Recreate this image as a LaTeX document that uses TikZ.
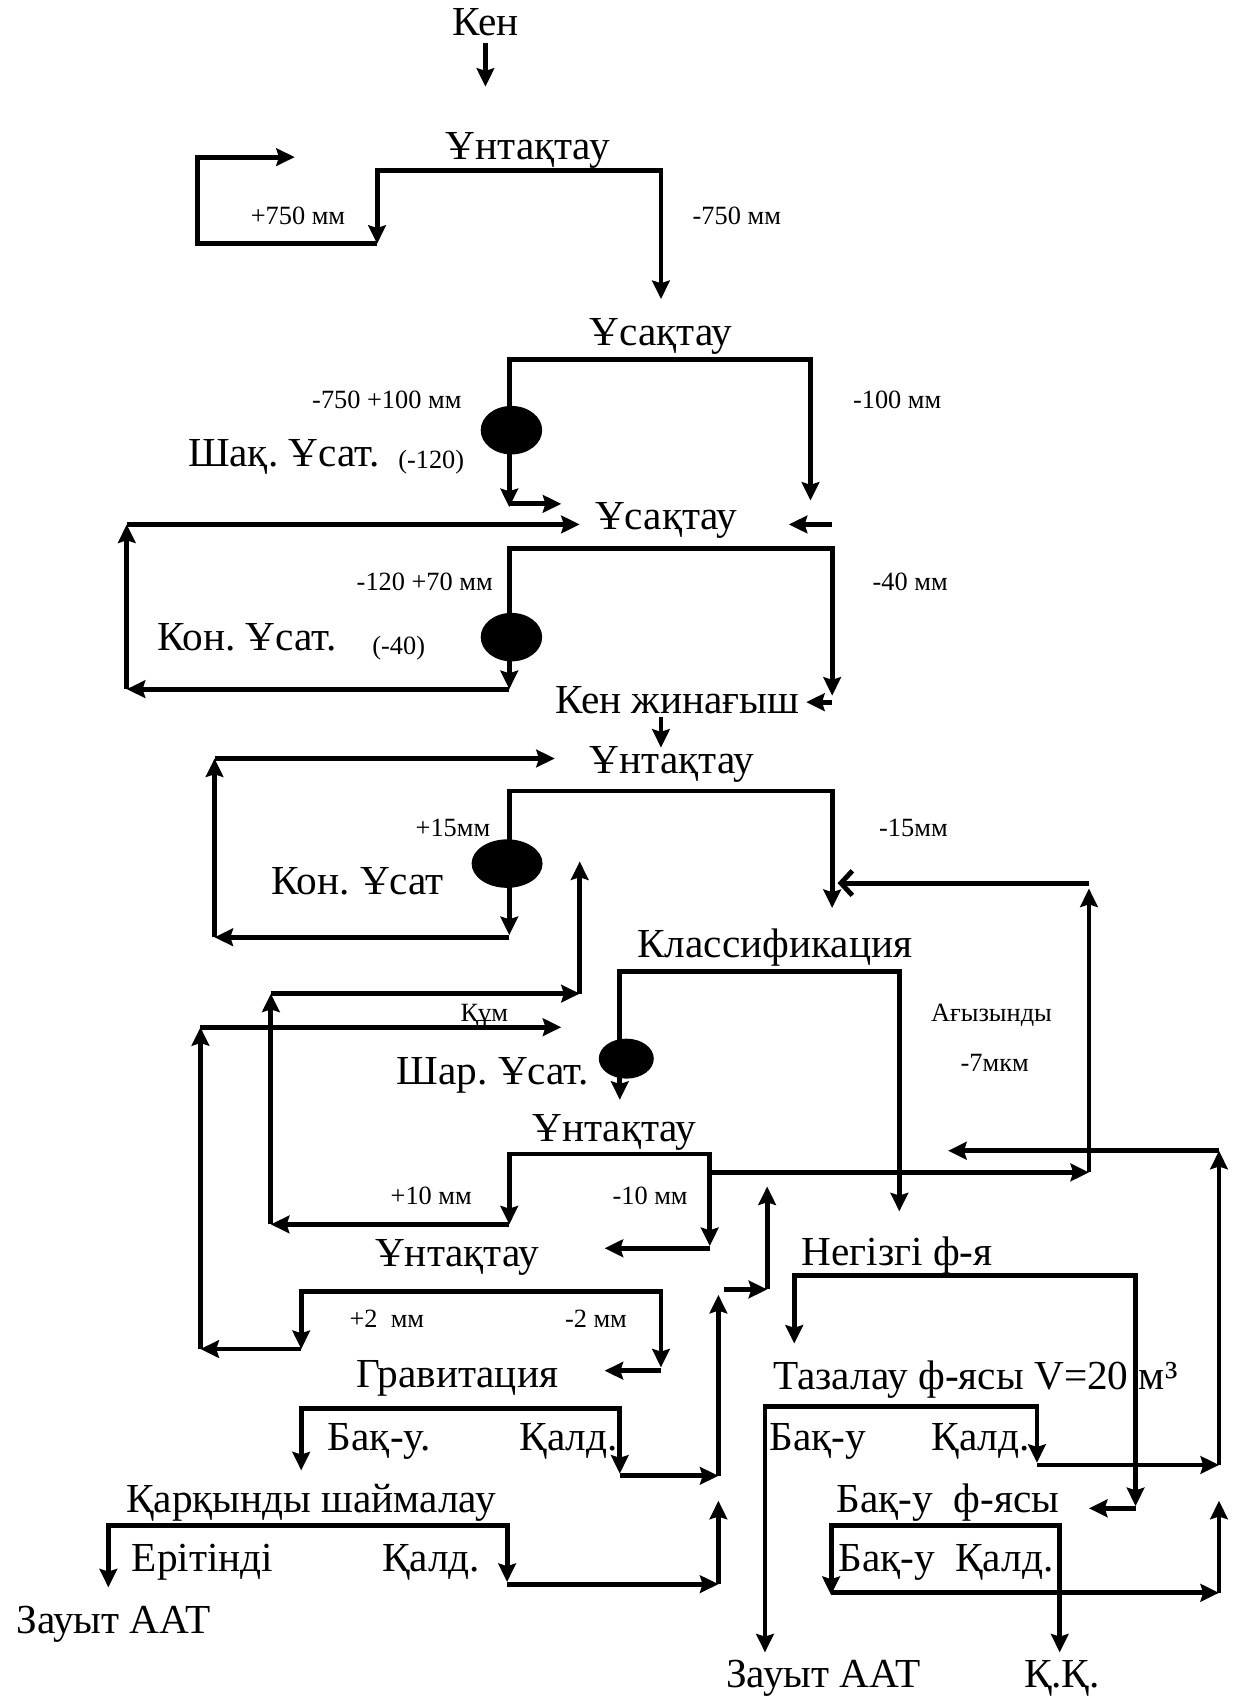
\documentclass[tikz,border=0pt]{standalone}
\usepackage{fontspec}
\setmainfont{Liberation Serif}
\usetikzlibrary{arrows.meta,shapes.geometric}
\frenchspacing
\begin{document}
\begin{tikzpicture}[x=0.021677cm,y=-0.021677cm,
  ln/.style={line width=2.8pt, line join=miter},
  ar/.style={ln, -{Stealth[length=10.5pt,width=10pt,inset=1.5pt]}},
  arr/.style={ln, {Stealth[length=10.5pt,width=10pt,inset=1.5pt]}-{Stealth[length=10.5pt,width=10pt,inset=1.5pt]}},
  opn/.style={ln, -{Straight Barb[length=6.5pt,width=14pt,line width=2.8pt]}},
  big/.style={inner sep=0pt, anchor=base, yshift=-6.5pt, font=\fontsize{23.5}{26}\selectfont},
  sm/.style={inner sep=0pt, anchor=base, yshift=-4.5pt, font=\fontsize{15}{17}\selectfont},
  dot/.style={ellipse, fill=black, draw=none, inner sep=0pt}]
\useasboundingbox (0,0) rectangle (1143,1568);

% ---------- texts ----------
\node[big] (ken) at (448,22) {Кен};
\node[big] (unt1) at (487,137) {Ұнтақтау};
\node[sm] (l750p) at (275,200) {+750 мм};
\node[sm] (l750m) at (680,200) {-750 мм};
\node[big] (usq1) at (610,308) {Ұсақтау};
\node[sm] (l100p) at (357,370) {-750 +100 мм};
\node[sm] (l100m) at (828,370) {-100 мм};
\node[big] (shaq) at (262,420) {Шақ. Ұсат.};
\node[sm] (l120) at (398,425) {(-120)};
\node[big] (usq2) at (615,478) {Ұсақтау};
\node[sm] (l70p) at (392,538) {-120 +70 мм};
\node[sm] (l40m) at (840,538) {-40 мм};
\node[big] (kon1) at (228,590) {Кон. Ұсат.};
\node[sm] (l40) at (368,597) {(-40)};
\node[big] (kenzh) at (625,648) {Кен жинағыш};
\node[big] (unt2) at (620,703) {Ұнтақтау};
\node[sm] (l15p) at (418,765) {+15мм};
\node[sm] (l15m) at (843,765) {-15мм};
\node[big] (kon2) at (330,815) {Кон. Ұсат};
\node[big] (klass) at (715,873) {Классификация};
\node[sm] (agyz) at (915,935) {Ағызынды};
\node[sm] (l7) at (918,982) {-7мкм};
\node[sm] (qum) at (447,935) {Құм};
\node[big] (shar) at (455,990) {Шар. Ұсат.};
\node[big] (unt3) at (567,1043) {Ұнтақтау};
\node[sm] (l10p) at (398,1104) {+10 мм};
\node[sm] (l10m) at (600,1104) {-10 мм};
\node[big] (unt4) at (422,1158) {Ұнтақтау};
\node[big] (neg) at (828,1157) {Негізгі ф-я};
\node[sm] (l2p) at (357,1218) {+2\ \ мм};
\node[sm] (l2m) at (550,1218) {-2 мм};
\node[big] (grav) at (422,1270) {Гравитация};
\node[big] (taz) at (900,1272) {Тазалау ф-ясы V=20 м³};
\node[big] (bak1) at (350,1328) {Бақ-у.};
\node[big] (qal1) at (525,1328) {Қалд.};
\node[big] (bak2) at (755,1328) {Бақ-у};
\node[big] (qal2) at (905,1328) {Қалд.};
\node[big] (qarq) at (287,1385) {Қарқынды шаймалау};
\node[big] (bakf) at (875,1385) {Бақ-у\ \ ф-ясы};
\node[big] (erit) at (187,1440) {Ерітінді};
\node[big] (qal3) at (398,1440) {Қалд.};
\node[big] (bakq) at (873,1440) {Бақ-у\ \ Қалд.};
\node[big] (zau1) at (105,1497) {Зауыт ААТ};
\node[big] (zau2) at (760,1547) {Зауыт ААТ};
\node[big] (qq) at (980,1547) {Қ.Қ.};

% ---------- mills (dots) ----------
\node[dot, minimum width=1.23cm, minimum height=0.97cm] (m1) at (472,397) {};
\node[dot, minimum width=1.23cm, minimum height=0.97cm] (m2) at (472,588) {};
\node[dot, minimum width=1.42cm, minimum height=0.97cm] (m3) at (468,797) {};
\node[dot, minimum width=1.10cm, minimum height=0.80cm] (m4) at (578,977) {};

% ---------- top ----------
\draw[ar] (448,40) -- (448,80);
\draw[arr] (348,225) -- (348,157) -- (610,157) -- (610,276);
\draw[ar] (348,225) -- (182,225) -- (182,145) -- (272,145);

% ---------- crushing 1 ----------
\draw[arr] (470,468) -- (470,332) -- (748,332) -- (748,462);
\draw[ar] (470,465) -- (518,465);
\draw[ar] (768,484) -- (728,484);

% ---------- crushing 2 ----------
\draw[arr] (470,636) -- (470,506) -- (768,506) -- (768,642);
\draw[ar] (768,648) -- (744,648);
\draw[ar] (470,636) -- (117,636);
\draw[ar] (117,636) -- (117,484);
\draw[ar] (117,484) -- (535,484);
\draw[ar] (610,662) -- (610,690);

% ---------- grinding 1 ----------
\draw[arr] (470,863) -- (470,730) -- (768,730) -- (768,838);
\draw[ar] (470,865) -- (198,865);
\draw[ar] (198,865) -- (198,700);
\draw[ar] (198,700) -- (512,700);
\draw[ar] (655,1082) -- (1005,1082);
\draw[ar] (1005,1082) -- (1005,820);
\draw[opn] (1005,815) -- (773,815);

% ---------- classification ----------
\draw[arr] (572,1015) -- (572,897) -- (830,897) -- (830,1118);
\draw[ar] (470,1130) -- (250,1130);
\draw[ar] (250,1130) -- (250,917);
\draw[ar] (250,917) -- (535,917);
\draw[ar] (535,917) -- (535,795);
\draw[ar] (278,1245) -- (185,1245);
\draw[ar] (185,1245) -- (185,948);
\draw[ar] (185,948) -- (518,948);

% ---------- grinding 2 ----------
\draw[arr] (470,1130) -- (470,1065) -- (655,1065) -- (655,1150);
\draw[ar] (655,1152) -- (558,1152);

% ---------- screening 2 mm ----------
\draw[arr] (278,1245) -- (278,1192) -- (610,1192) -- (610,1262);
\draw[ar] (610,1265) -- (558,1265);

% ---------- gravity ----------
\draw[arr] (278,1357) -- (278,1300) -- (572,1300) -- (572,1360);
\draw[ar] (572,1362) -- (663,1362);
\draw[ar] (663,1362) -- (663,1195);
\draw[ar] (668,1190) -- (708,1190);
\draw[ar] (708,1190) -- (708,1095);

% ---------- intensive leaching ----------
\draw[arr] (100,1465) -- (100,1408) -- (468,1408) -- (468,1460);
\draw[ar] (468,1462) -- (663,1462);
\draw[ar] (663,1462) -- (663,1385);

% ---------- flotation ----------
\draw[arr] (733,1240) -- (733,1177) -- (1048,1177) -- (1048,1390);
\draw[ar] (1048,1392) -- (1005,1392);
\draw[ar] (1125,1062) -- (875,1062);
\draw[arr] (706,1525) -- (706,1298) -- (957,1298) -- (957,1350);
\draw[ar] (957,1352) -- (1125,1352);
\draw[ar] (1125,1352) -- (1125,1062);
\draw[arr] (767,1472) -- (767,1408) -- (978,1408) -- (978,1525);
\draw[ar] (767,1470) -- (1125,1470);
\draw[ar] (1125,1470) -- (1125,1385);
\end{tikzpicture}
\end{document}
